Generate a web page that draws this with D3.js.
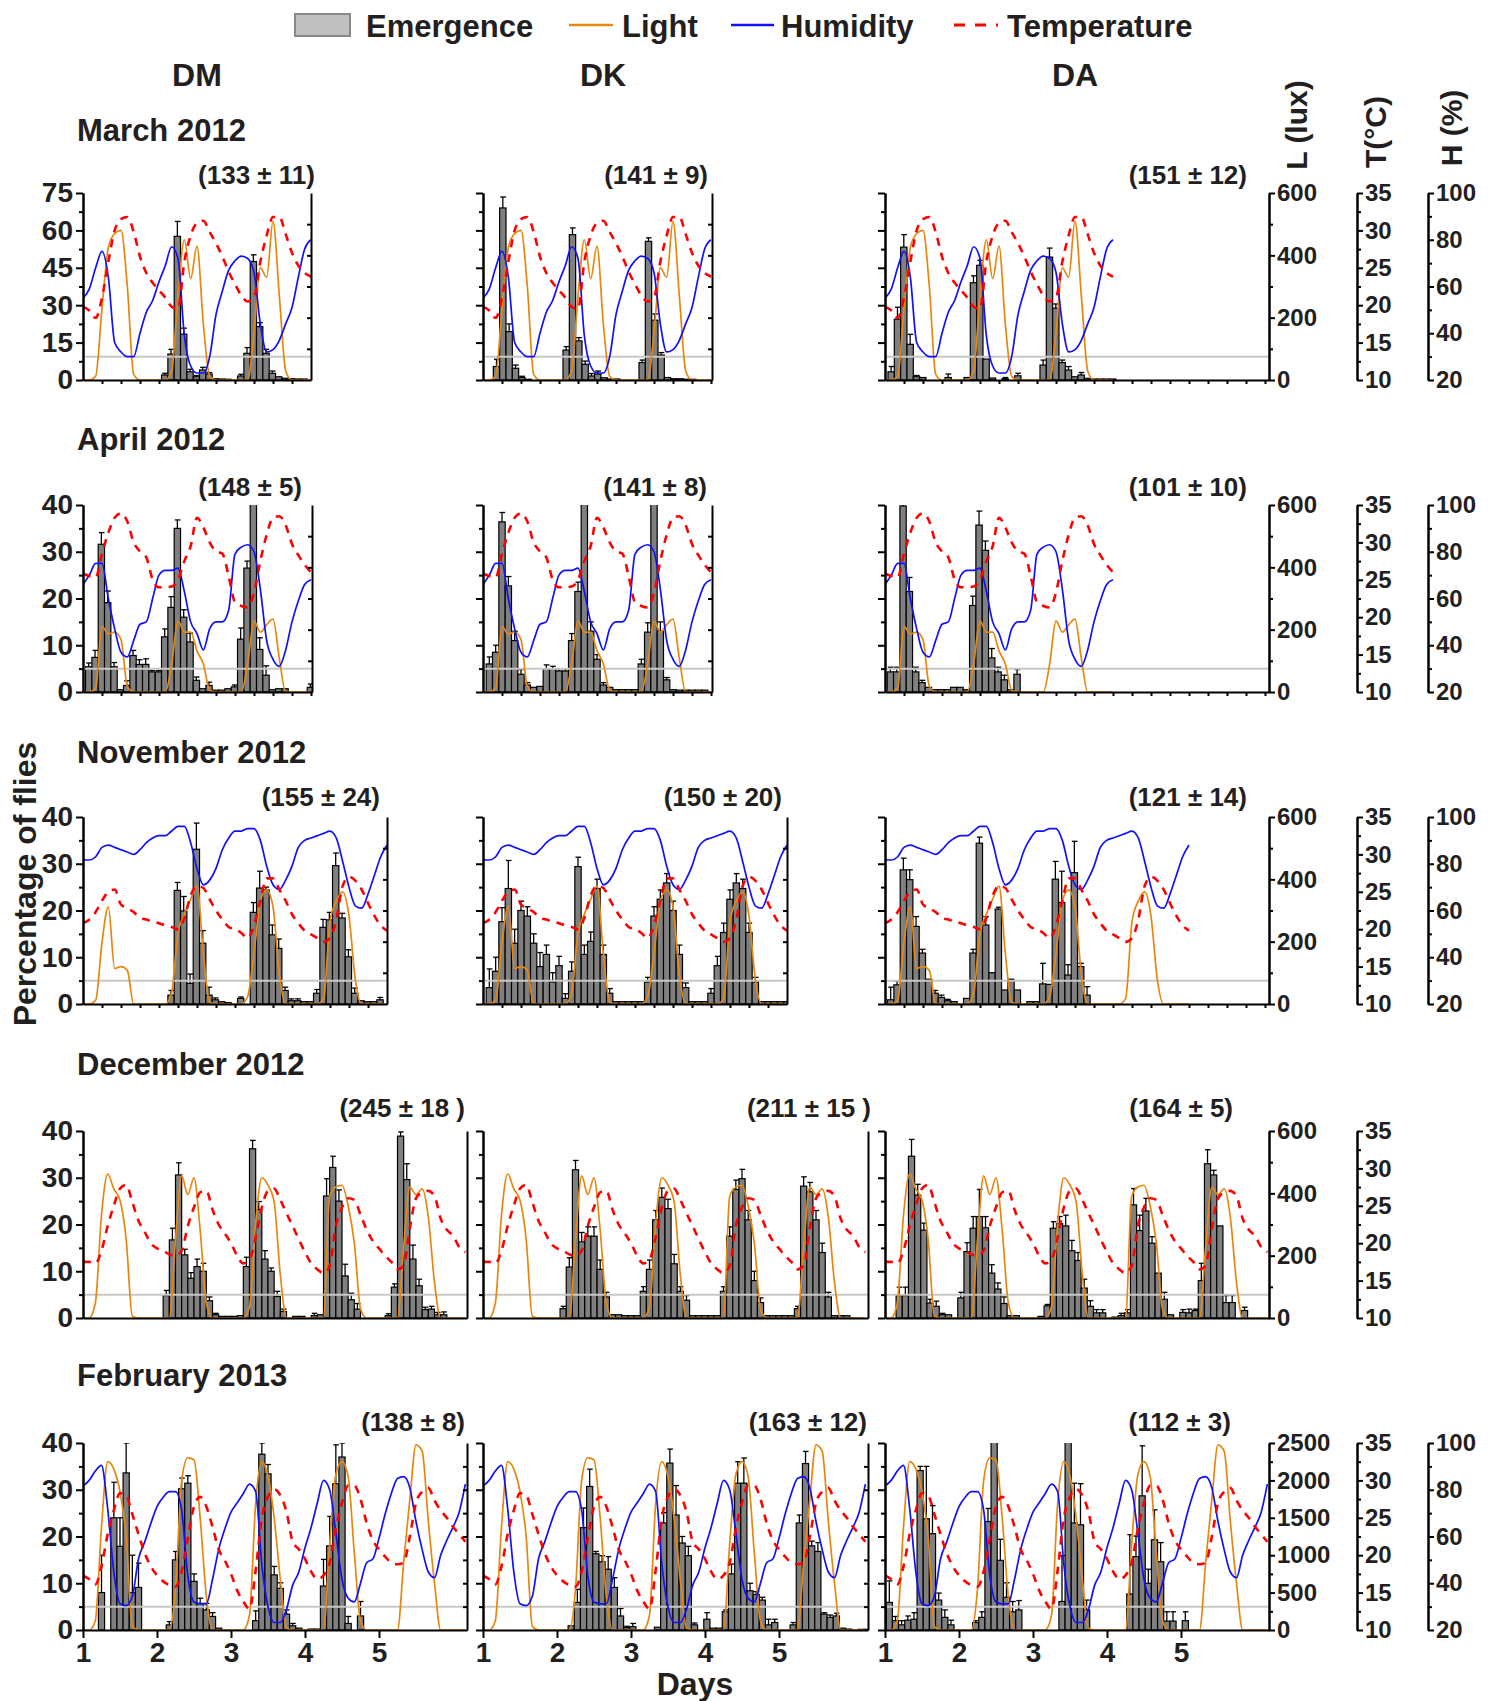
<!DOCTYPE html>
<html><head><meta charset="utf-8">
<script src="https://cdn.jsdelivr.net/npm/d3@7"></script>
<style>
body{margin:0;background:#fff}
svg{display:block}
</style>
</head><body>
<svg id="c" width="1489" height="1701"></svg>
<script>
// ---------------- DATA ----------------
const dayLabels = [1, 2, 3, 4, 5];
const pctTicksMar = [0, 15, 30, 45, 60, 75];
const pctTicks = [0, 10, 20, 30, 40];
const luxTicks = [0, 200, 400, 600];
const luxTicksFeb = [0, 500, 1000, 1500, 2000, 2500];
const tempTicks = [10, 15, 20, 25, 30, 35];
const humTicks = [20, 40, 60, 80, 100];
const thresholds = [9.375, 5, 5, 5, 5];
const rowTitles = ["March 2012", "April 2012", "November 2012", "December 2012", "February 2013"];
const strains = ["DM", "DK", "DA"];
const nLabels = [
  ["(133 ± 11)", "(141 ± 9)", "(151 ± 12)"],
  ["(148 ± 5)", "(141 ± 8)", "(101 ± 10)"],
  ["(155 ± 24)", "(150 ± 20)", "(121 ± 14)"],
  ["(245 ± 18 )", "(211 ± 15 )", "(164 ± 5)"],
  ["(138 ± 8)", "(163 ± 12)", "(112 ± 3)"]
];
const legendItems = ["Emergence", "Light", "Humidity", "Temperature"];

// environmental records, one value every 2 h from the start of each panel
const lightMar = [0,0,12,230,425,470,480,300,18,0,0,0,0,0,30,270,450,325,430,180,12,0,0,0,0,0,0,150,360,330,510,270,30,0,0,0,0];
const humMar = [55,59,68,75,64,36,32,30,30,40,49,54,62,69,77,72,39,26,23,23,30,48,58,67,71,73,72,66,44,32,33,37,44,51,64,76,80];
const tempMar = [19.8,19.3,18.3,21,25.8,30,31.5,31.8,29.8,26.5,24.3,23,22,21,19.8,19.5,25.8,29.3,31,31.3,29.8,28.3,26.5,24.5,22.8,21.3,20.5,21,25.8,29.3,31.8,31.8,29.5,27,25.3,24.3,23.8];

const lightApr = [0,0,12,210,186,192,168,18,0,0,0,0,0,0,90,228,192,192,132,90,6,0,0,0,0,0,90,228,192,216,234,108,0,0,0,0,0];
const humApr = [66,70,75,75,60,47,37,35,42,49,50,60,70,72,72,73,63,50,45,38,47,50,50,55,79,82,83,80,64,42,34,31,38,50,59,66,68];
const tempApr = [25.8,25.5,25.3,28.5,31.3,33.3,33.9,32.8,30,28.8,28,25,24,24,24.1,25,27.5,29.5,33.3,32,30,28.8,28.5,25.5,22,21.5,21.3,23.3,27.5,31,33.3,33.5,32.3,29.8,28.3,27,26];

const lightNov = [0,0,12,198,312,114,120,108,0,0,0,0,0,0,36,228,288,336,378,162,6,0,0,0,0,0,24,162,330,366,312,96,0,0,0,0,0,0,18,264,330,360,282,78,0,0,0,0,0];
const humNov = [81.6,81.6,83,87,88,87,86,85,84,86,89,91,92,92,94,96,96,89,78,71,73,78,86,91,94,94,95,95,90,79,71,69,73,79,87,90,91,92,93,94,91,81,70,62,61,67,75,83,88];
const tempNov = [20.8,21.3,22.3,23.8,25,25.3,23.3,22.8,22.3,21.5,21.3,21,20.8,20.5,20.3,20,21.5,24.5,25.8,25.5,24,22.5,21.3,20.3,20,19.5,18.8,20.5,23.8,26.8,26.8,25.3,23.8,22,20.8,19.8,19.3,18.8,18.3,18.8,21.3,25.8,27,26.5,25.3,23.5,21.8,20.5,19.8];

const lightDec = [0,0,48,330,462,414,378,252,6,0,0,0,0,0,0,252,456,396,450,282,48,0,0,0,0,0,0,36,306,450,426,372,138,0,0,0,0,0,0,0,390,420,426,360,240,30,0,0,0,0,0,0,228,420,396,414,324,114,0,0,0,0,0];
const tempDec = [17.5,17.5,17.3,19,22.3,25,27.3,27.8,25.5,23,21.5,20,19.3,19,18.5,18.3,19,22.3,24.8,26.8,27,24.5,22.5,21.3,20,18.3,17.3,17.8,20.8,24.8,27,27.3,25.8,24,22.3,20.5,18.8,17.3,16.5,16,17,22.3,24.8,26,25.8,23.8,21.8,20.3,19.3,18.3,17.5,16.5,17,22,26,26.8,27,26.3,23.3,21.8,21,19.5,18.8];

const lightFeb = [0,0,125,1375,2250,2150,1850,1250,50,0,0,0,0,0,0,550,2000,2300,2275,1500,450,0,0,0,0,0,0,200,1700,2250,2050,1500,675,25,0,0,0,0,0,0,1150,2075,2250,2050,1025,125,0,0,0,0,0,0,900,1750,2475,2390,1450,625,0,0,0,0,0];
const humFeb = [81.6,84,88,90.4,72,44.8,31.2,30.4,34.4,50.4,57.6,65.6,72.8,76.8,79.2,79.2,71.2,43.2,32,31.2,31.2,41.6,54.4,63.2,70.4,74.4,78.4,82.4,79.2,48,30,23.2,23.2,28.8,39.2,44.8,55.2,64,74.4,84,80,61.6,41.6,33.6,32,40,48.8,50.4,59.2,69.6,78.4,84.8,85.6,80.8,66.4,54.4,44.8,42.4,52,58.4,64,70.4,82.4];
const tempFeb = [17.3,16.8,16.1,18.5,22.8,26,28.3,28,25.5,22.8,20.3,18.5,17.3,16.5,16,15.8,17.8,22.3,26.5,27.8,26.5,23.8,20.8,19.3,17.5,15.3,13.8,12.8,18,25,27.8,28.8,28,25.8,21.8,20.8,19.5,17.8,16.8,17.3,19,23.5,27,29.3,29.3,27.5,24.3,22,20.8,19.8,19,18.8,19,22.5,27,28.5,29,27.3,26,25,23.8,22.8,21.8];

// emergence: [2-h bin, % of flies, +SEM]
const emMarDM = [[12,2,.7],[13,10.4,1.9],[14,57.6,6],[15,18.4,2.4],[16,3.3,1],[17,1.3,.5],[18,4,1.1],[19,2.4,.6],[20,.5,0],[21,.4,0],[22,.3,0],[24,1.6,.7],[25,10.7,2.3],[26,47.5,2.7],[27,21.4,1.6],[28,10.7,1.6],[29,2.7,.9],[30,1.3,0],[31,.7,0],[32,.5,0],[33,.4,0],[34,.4,0]];
const emMarDK = [[1,5.4,2.9],[2,69,4.4],[3,19.4,3.1],[4,4.7,1.3],[5,1,.5],[6,.3,0],[12,12,1.4],[13,58.3,2.7],[14,15.7,1.3],[15,6.3,1.3],[16,1.6,1],[17,2.4,1.2],[18,.9,0],[19,.4,0],[20,.4,0],[24,7,1],[25,55.6,1.4],[26,24,2.5],[27,10,1],[28,1,0],[29,.5,0],[30,.5,0],[31,.3,0],[32,.3,0]];
const emMarDA = [[0,3.3,2.1],[1,24.4,4.8],[2,53.3,5],[3,14.3,4],[4,1.3,.5],[5,1,0],[9,1,1.4],[12,1,0],[13,39,2.8],[14,46,2],[15,8.4,0],[16,.8,0],[18,.5,.5],[20,1.7,1],[24,6,2],[25,49.3,3.6],[26,28.8,1.7],[27,7,1],[28,4,1.4],[29,1.3,0],[30,2,1],[31,.7,0],[32,.4,0],[33,.4,0],[34,.4,0],[35,.4,0]];

const emAprDM = [[0,5.4,.8],[1,7.4,1.5],[2,31.6,2.5],[3,19.1,2.5],[4,5.4,.9],[5,.5,0],[6,1.4,1],[7,7.8,1.1],[8,5.9,1],[9,5.9,1.2],[10,4.3,.3],[11,4.3,.3],[12,11.8,1.7],[13,18.1,2.3],[14,35,1.8],[15,16,1.6],[16,10.7,1.9],[17,2.5,.7],[18,.7,0],[19,1.4,.7],[20,.4,0],[21,.4,0],[22,.7,0],[23,1.1,.4],[24,11.3,2.4],[25,26.5,1.5],[26,45,0],[27,9.1,2.5],[28,3.6,2],[29,.5,0],[30,.7,0],[31,.7,0],[35,1,.7]];
const emAprDK = [[0,6,1.5],[1,8.5,1.5],[2,36.4,2],[3,22.7,2],[4,11,2],[5,3.8,1],[6,1.5,.5],[7,1,0],[8,1.2,0],[9,5,.8],[10,5,.5],[11,4.5,.5],[12,4.5,.5],[13,11,1.5],[14,21.5,2],[15,45,0],[16,13,2],[17,7,1],[18,1.5,.5],[19,1,0],[20,.5,0],[21,.5,0],[22,.5,0],[23,.5,0],[24,6,1],[25,12.8,2],[26,45,0],[27,13,2],[28,2.6,.5],[29,.5,0],[30,.4,0],[31,.4,0],[32,.4,0],[33,.4,0],[34,.4,0]];
const emAprDA = [[0,4.3,1],[1,4.3,1],[2,39.8,1],[3,21.5,3],[4,4.3,1],[5,2,.5],[6,1,0],[7,.5,0],[8,.5,0],[9,.5,0],[10,1,0],[11,1,0],[12,.5,0],[13,18.5,2],[14,35.7,3],[15,30.3,2],[16,7.3,2],[17,4.3,1],[18,2.6,1],[19,.5,0],[20,3.8,1]];

const emNovDM = [[13,1.9,1],[14,24.3,1.7],[15,19.9,3.1],[16,4.4,2],[17,33.1,5.6],[18,13,2.7],[19,1.9,1.7],[20,.9,.4],[21,.5,0],[22,.3,0],[24,1.2,.3],[26,19.6,2.1],[27,24.8,3.6],[28,24.4,.6],[29,14.8,2.1],[30,11.9,2],[31,2.9,.7],[32,.7,.4],[33,.7,.4],[34,.5,0],[35,.5,0],[36,2.3,.8],[37,16.4,1.7],[38,18,1.6],[39,29.6,2.7],[40,18.4,1],[41,10.1,1.5],[42,2.3,1.1],[43,.7,0],[44,.5,0],[45,.5,0],[46,.9,.5]];
const emNovDK = [[0,3.5,4],[1,7,3],[2,17.6,3],[3,24.7,6],[4,13,3],[5,20,2],[6,18.8,2],[7,13,2],[8,8,3],[9,10.6,2],[10,4.7,2],[11,8.2,2],[12,1.2,1],[13,7,2],[14,29.4,2],[15,10.6,2],[16,13.4,2],[17,24.7,2],[18,10.6,2],[19,2.3,1],[20,.5,0],[21,.5,0],[22,.5,0],[23,.5,0],[24,.5,0],[25,4.7,1],[26,18.8,2],[27,22.4,2],[28,25.9,2],[29,20,2],[30,10.6,2],[31,3.5,1],[32,.5,0],[33,.5,0],[34,.5,0],[35,2.3,1],[36,8.2,2],[37,15.3,2],[38,22.4,2],[39,25.9,2],[40,24.7,2],[41,15.3,2],[42,4.7,1],[43,.5,0],[44,.5,0],[45,.5,0],[46,.5,0],[47,.5,0]];
const emNovDA = [[0,.9,2.7],[1,4.1,.8],[2,28.7,2.5],[3,26.6,2.1],[4,16.6,2.1],[5,10.9,.8],[6,5.3,0],[7,2.3,.6],[8,1.4,.5],[9,.7,.3],[10,.5,0],[12,1.2,0],[13,10.9,.8],[14,34.4,1.3],[15,16.9,1.8],[16,6.7,0],[17,20.3,.4],[18,3,0],[19,5.1,.2],[20,3,0],[22,.5,0],[23,.5,0],[24,4.3,4.4],[25,4.2,0],[26,26.7,3.8],[27,21.7,6.7],[28,6.2,2.2],[29,28.1,6.7],[30,8,.7],[31,1.9,1.8]];

const emDecDM = [[12,4.8,1.1],[13,16.7,2.5],[14,30.6,2.6],[15,13.5,1.2],[16,8.5,1.2],[17,11,1.6],[18,10,1.7],[19,3.7,.8],[20,.7,.3],[21,.35,0],[22,.35,0],[23,.35,0],[24,.5,0],[25,11,2],[26,36.2,1.8],[27,23.2,1.7],[28,12.6,1.8],[29,10,.7],[30,4.6,1.1],[31,1.4,.5],[33,.35,0],[34,.35,0],[36,.5,.5],[37,.7,0],[38,26.1,3.7],[39,32.2,2.4],[40,25,2.4],[41,9,2.5],[42,3.9,1.4],[43,1.9,1.2],[48,.5,.4],[49,6.6,.7],[50,38.9,.9],[51,29.6,3.4],[52,12.6,3],[53,6.9,1.4],[54,1.8,.5],[55,1.9,.6],[56,.7,.5],[57,.7,.6]];
const emDecDK = [[12,2,.5],[13,10.9,2],[14,31.7,2],[15,16.3,2],[16,17.5,2],[17,17.5,2],[18,10.4,2],[19,4.5,1],[20,.7,0],[21,.7,0],[22,.5,0],[23,.5,0],[24,.5,0],[25,5.7,1],[26,10.4,2],[27,21,2],[28,25.8,2],[29,23.4,2],[30,11.6,2],[31,5.7,1],[32,3.8,1],[33,.5,0],[34,.5,0],[35,.5,0],[36,.5,0],[37,.5,0],[38,5.7,1],[39,17.5,2],[40,27.5,2],[41,29.8,2],[42,21,2],[43,8,2],[44,3.3,1],[45,.5,0],[46,.5,0],[47,.5,0],[48,.5,0],[49,.5,0],[50,2,.5],[51,28.2,2],[52,27,2],[53,21,2],[54,14,2],[55,4.5,1],[56,.5,0],[57,.5,0],[58,.5,0]];
const emDecDA = [[1,4.8,1.8],[2,4.8,1.8],[3,34.6,3.6],[4,26.3,2.3],[5,18.8,1.5],[6,3.2,.8],[7,2.5,1.1],[8,.7,.3],[9,.7,0],[11,4.3,1.2],[12,14.2,1.9],[13,19.2,2.5],[14,21.7,5.8],[15,19.3,2.4],[16,9.6,1.8],[17,6.2,1.3],[18,3.1,1.4],[19,.5,0],[20,.5,0],[24,.35,0],[25,2.6,.3],[26,19.2,1.4],[27,20.2,1.5],[28,19.7,2.3],[29,14.4,2.2],[30,12.3,1.7],[31,6.4,1.9],[32,2.5,1.2],[33,1.1,.7],[34,1.1,.7],[36,.2,0],[37,.5,.5],[38,1.1,.7],[39,24.2,3.5],[40,18.7,3.3],[41,22.9,2.7],[42,16,1.4],[43,9.6,0],[44,4,1.5],[45,.7,0],[47,1.2,.6],[48,1.1,.8],[49,1.6,.3],[50,8,3.7],[51,33,3],[52,30.6,1],[53,19.7,0],[54,3.3,1.5],[55,3.3,1.5],[57,1.6,.7]];

const emFebDM = [[2,8,8],[4,24,7.6],[5,17.9,6.1],[6,33.6,6.4],[7,8,8],[8,9.1,5.2],[13,1.1,.7],[14,15,1.8],[15,30.2,2.3],[16,31.4,1.6],[17,10.4,1.6],[18,5.7,1.1],[19,4.3,1.4],[20,2.9,.8],[21,.4,0],[27,2,2.1],[28,37.6,2.4],[29,33.4,2],[30,11.8,1.8],[31,8.9,1.2],[32,3.4,.9],[33,.9,.5],[34,.4,0],[36,.2,0],[37,.2,0],[38,9.4,5.7],[39,18,6.3],[40,31.3,8.3],[41,37,3],[42,1.4,1.5],[44,3,3.1]];
const emFebDK = [[13,.9,0],[14,5.9,2.8],[15,21.9,4.2],[16,30.7,3.7],[17,16.3,.5],[18,14.6,1.3],[19,13,2.7],[20,9.1,2.1],[21,3,1.6],[22,.5,.3],[23,.7,.7],[27,.6,0],[28,22.9,2.2],[29,35.7,3],[30,24.6,6.3],[31,18.6,1.4],[32,15.9,2],[33,1.1,.4],[35,2.3,1.4],[36,.4,0],[37,.4,0],[38,3.9,.4],[39,12,2.1],[40,31.4,4.6],[41,31.4,5.4],[42,8.4,1.6],[43,7.6,.6],[44,6.4,.6],[45,1.1,1.2],[46,1.6,.7],[49,1.1,.5],[50,22.9,1.7],[51,35.6,2.6],[52,18,1],[53,16.8,1.9],[54,3.4,.3],[55,2.7,.5],[56,3,.6],[57,.4,0],[58,.2,0],[60,.15,0],[61,.15,0]];
const emFebDA = [[0,5.9,4.6],[1,2,.9],[2,1.1,.9],[3,2.1,.9],[4,2.3,1.4],[5,34.1,.9],[6,23.8,11.2],[7,20.6,6],[8,6.4,1.5],[9,2.7,1.6],[10,1.1,1],[14,1.6,.4],[15,2.7,1.2],[16,23.2,2.8],[17,45,0],[18,14.9,4.5],[19,7,3.1],[20,3.9,2.2],[21,4.3,2],[28,6.1,9.8],[29,45,0],[30,22.9,8.5],[31,22.5,8.8],[32,4.3,2.1],[39,7.7,12.7],[40,15.7,4.4],[41,28.7,10.7],[42,10,3],[43,19.3,6.4],[44,14.6,4.1],[45,1.9,2],[46,1.9,2],[48,2,1.9]];

// ---------------- LAYOUT ----------------
const FONT = '"Liberation Sans", Arial, Helvetica, sans-serif';
const TXT = '#231f20';
const C_LIGHT = '#e8870e', C_HUM = '#1010ff', C_TEMP = '#ff0000';
const rowTop = [193, 505, 817, 1131, 1443];
const plotH = 187;
const panelX = [
  [[83,311],[483,712],[885,1269]],
  [[83,312],[483,712],[885,1269]],
  [[83,387],[483,787],[885,1269]],
  [[83,467],[483,868],[885,1269]],
  [[83,467],[483,868],[885,1269]]
];
const pxDay = [76, 76, 76, 74, 74];
const binOff = [[.4,.63,.47],[.4,.5,.35],[.4,.5,.4],[1,.5,.8],[.5,.8,.2]];
const nLabelX = [[315,708,1247],[302,707,1247],[380,782,1247],[465,871,1233],[465,867,1231]];
const nLabelY = [175, 487, 797, 1108, 1422];
const titleY = [130, 439, 752, 1064, 1375];
const innerTicks = [6, 6, 6, 0, 8];
const axLX = 1269, axTX = 1357, axHX = 1428;

const rows = [
  {light: lightMar, temp: tempMar, hum: humMar, bars: [emMarDM, emMarDK, emMarDA], yMax: 75, yTicks: pctTicksMar, lMax: 600, lTicks: luxTicks},
  {light: lightApr, temp: tempApr, hum: humApr, bars: [emAprDM, emAprDK, emAprDA], yMax: 40, yTicks: pctTicks, lMax: 600, lTicks: luxTicks},
  {light: lightNov, temp: tempNov, hum: humNov, bars: [emNovDM, emNovDK, emNovDA], yMax: 40, yTicks: pctTicks, lMax: 600, lTicks: luxTicks},
  {light: lightDec, temp: tempDec, hum: null, bars: [emDecDM, emDecDK, emDecDA], yMax: 40, yTicks: pctTicks, lMax: 600, lTicks: luxTicks},
  {light: lightFeb, temp: tempFeb, hum: humFeb, bars: [emFebDM, emFebDK, emFebDA], yMax: 40, yTicks: pctTicks, lMax: 2500, lTicks: luxTicksFeb}
];

const svg = d3.select('#c');
const defs = svg.append('defs');

function styleAxis(g, size) {
  g.attr('font-family', FONT).attr('font-size', size).attr('font-weight', 'bold');
  g.selectAll('path,line').attr('stroke', '#000').attr('stroke-width', 2);
  g.selectAll('text').attr('fill', TXT);
}
const mids = t => t.slice(1).map((v, i) => (v + t[i]) / 2);

function text(x, y, s, size, anchor, rot) {
  const t = svg.append('text').attr('x', x).attr('y', y).text(s)
    .attr('font-family', FONT).attr('font-weight', 'bold').attr('font-size', size)
    .attr('fill', TXT).attr('text-anchor', anchor || 'start').attr('dominant-baseline', 'central');
  if (rot) t.attr('transform', `rotate(${rot},${x},${y})`);
  return t;
}

// ---------------- PANELS ----------------
rows.forEach((R, r) => {
  const top = rowTop[r], bot = top + plotH;
  const y = d3.scaleLinear().domain([0, R.yMax]).range([bot, top]);
  const yL = d3.scaleLinear().domain([0, R.lMax]).range([bot, top]);
  const yT = d3.scaleLinear().domain([10, 35]).range([bot, top]);
  const yH = d3.scaleLinear().domain([20, 100]).range([bot, top]);

  text(77, titleY[r], rowTitles[r], 31);

  panelX[r].forEach(([x0, x1], p) => {
    const dMax = (x1 - x0) / pxDay[r];
    const x = d3.scaleLinear().domain([0, dMax]).range([x0, x1]);
    const id = `cp${r}_${p}`;
    defs.append('clipPath').attr('id', id).append('rect')
      .attr('x', x0).attr('y', top).attr('width', x1 - x0).attr('height', plotH);
    const g = svg.append('g').attr('clip-path', `url(#${id})`);
    const off = binOff[r][p];
    const bx = d => x((d[0] + off) / 12);
    const bw = x(1 / 12) - x(0);

    // bars
    g.selectAll('rect.bar').data(R.bars[p]).join('rect')
      .attr('x', bx).attr('width', bw)
      .attr('y', d => y(d[1])).attr('height', d => bot - y(d[1]))
      .attr('fill', '#808080').attr('stroke', '#000').attr('stroke-width', 1.2);
    // error bars (upper half)
    const eb = R.bars[p].filter(d => d[2] > 0);
    g.selectAll('line.err').data(eb).join('line')
      .attr('x1', d => bx(d) + bw / 2).attr('x2', d => bx(d) + bw / 2)
      .attr('y1', d => y(d[1])).attr('y2', d => y(d[1] + d[2]))
      .attr('stroke', '#000').attr('stroke-width', 1.3);
    g.selectAll('line.cap').data(eb).join('line')
      .attr('x1', d => bx(d) + bw * 0.1).attr('x2', d => bx(d) + bw * 1.0)
      .attr('y1', d => y(d[1] + d[2])).attr('y2', d => y(d[1] + d[2]))
      .attr('stroke', '#000').attr('stroke-width', 1.3);

    // light threshold
    g.append('line').attr('x1', x0 + 2).attr('x2', x1).attr('y1', y(thresholds[r])).attr('y2', y(thresholds[r]))
      .attr('stroke', '#c8c8c8').attr('stroke-width', 2);

    const tx = (d, k) => x(k / 12);
    g.append('path').attr('d', d3.line().x(tx).y(yL).curve(d3.curveMonotoneX)(R.light))
      .attr('fill', 'none').attr('stroke', C_LIGHT).attr('stroke-width', 1.7);
    if (R.hum) g.append('path').attr('d', d3.line().x(tx).y(yH).curve(d3.curveMonotoneX)(R.hum))
      .attr('fill', 'none').attr('stroke', C_HUM).attr('stroke-width', 1.7);
    g.append('path').attr('d', d3.line().x(tx).y(yT).curve(d3.curveMonotoneX)(R.temp))
      .attr('fill', 'none').attr('stroke', C_TEMP).attr('stroke-width', 2.6).attr('stroke-dasharray', '8,7');

    // left axis
    const gl = svg.append('g').attr('transform', `translate(${x0},0)`);
    gl.call(d3.axisLeft(y).tickValues(R.yTicks).tickSize(7).tickSizeOuter(0).tickPadding(3)
      .tickFormat(p === 0 ? d3.format('d') : () => ''));
    gl.append('g').call(d3.axisLeft(y).tickValues(mids(R.yTicks)).tickSize(4).tickSizeOuter(0).tickFormat(() => ''));
    styleAxis(gl, 28);

    // bottom axis
    const gb = svg.append('g').attr('transform', `translate(0,${bot})`);
    if (r === 4) {
      gb.call(d3.axisBottom(x).tickValues([0, 1, 2, 3, 4]).tickSize(8).tickSizeOuter(0).tickPadding(4)
        .tickFormat(d => dayLabels[d]));
    } else if (r < 3) {
      gb.call(d3.axisBottom(x).tickValues(d3.range(0.25, dMax, 0.25)).tickSize(4).tickSizeOuter(0).tickFormat(() => ''));
    } else {
      gb.call(d3.axisBottom(x).tickValues([]).tickSizeOuter(0));
    }
    styleAxis(gb, 28);

    if (p < 2) {
      // right frame of DM / DK panels
      const n = innerTicks[r];
      const gr = svg.append('g').attr('transform', `translate(${x1},0)`);
      const ys = d3.scaleLinear().domain([0, Math.max(n, 1)]).range([bot, top]);
      gr.call(d3.axisLeft(ys).tickValues(n ? d3.range(1, n) : []).tickSize(4).tickSizeOuter(0).tickFormat(() => ''));
      styleAxis(gr, 10);
    } else {
      // environmental axes
      const gL = svg.append('g').attr('transform', `translate(${axLX},0)`);
      gL.call(d3.axisRight(yL).tickValues(R.lTicks).tickSize(6).tickSizeOuter(0).tickPadding(2).tickFormat(d3.format('d')));
      gL.append('g').call(d3.axisRight(yL).tickValues(mids(R.lTicks)).tickSize(4).tickSizeOuter(0).tickFormat(() => ''));
      styleAxis(gL, 24);
      const gT = svg.append('g').attr('transform', `translate(${axTX},0)`);
      gT.call(d3.axisRight(yT).tickValues(tempTicks).tickSize(6).tickSizeOuter(0).tickPadding(2).tickFormat(d3.format('d')));
      gT.append('g').call(d3.axisRight(yT).tickValues(mids(tempTicks)).tickSize(4).tickSizeOuter(0).tickFormat(() => ''));
      styleAxis(gT, 24);
      if (R.hum) {
        const gH = svg.append('g').attr('transform', `translate(${axHX},0)`);
        gH.call(d3.axisRight(yH).tickValues(humTicks).tickSize(6).tickSizeOuter(0).tickPadding(2).tickFormat(d3.format('d')));
        gH.append('g').call(d3.axisRight(yH).tickValues(mids(humTicks)).tickSize(4).tickSizeOuter(0).tickFormat(() => ''));
        styleAxis(gH, 24);
      }
    }
    text(nLabelX[r][p], nLabelY[r], nLabels[r][p], 26, 'end');
  });
});

// ---------------- HEADERS, LEGEND, TITLES ----------------
[197, 603, 1075].forEach((cx, i) => text(cx, 75, strains[i], 32, 'middle'));
text(1296, 125, 'L (lux)', 30, 'middle', -90);
text(1375, 132, 'T(°C)', 30, 'middle', -90);
text(1451, 128, 'H (%)', 30, 'middle', -90);
text(25, 884, 'Percentage of flies', 32, 'middle', -90);
text(695, 1684, 'Days', 32, 'middle');

const lg = svg.append('g');
lg.append('rect').attr('x', 295).attr('y', 14).attr('width', 55).attr('height', 22)
  .attr('fill', '#c0c0c0').attr('stroke', '#888').attr('stroke-width', 2);
text(366, 26, legendItems[0], 31);
lg.append('line').attr('x1', 569).attr('x2', 613).attr('y1', 25).attr('y2', 25).attr('stroke', C_LIGHT).attr('stroke-width', 2.5);
text(622, 26, legendItems[1], 31);
lg.append('line').attr('x1', 731).attr('x2', 774).attr('y1', 25).attr('y2', 25).attr('stroke', C_HUM).attr('stroke-width', 2.5);
text(781, 26, legendItems[2], 31);
lg.append('line').attr('x1', 954).attr('x2', 998).attr('y1', 25).attr('y2', 25).attr('stroke', C_TEMP).attr('stroke-width', 3).attr('stroke-dasharray', '11,10');
text(1007, 26, legendItems[3], 31);
</script>
</body></html>
